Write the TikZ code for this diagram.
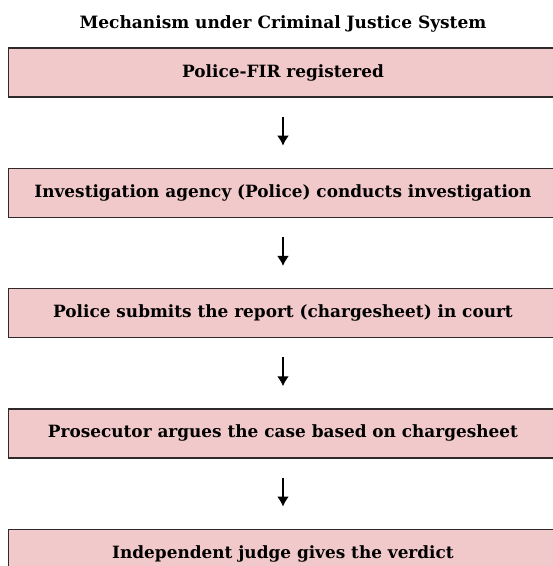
\documentclass[tikz,border=0pt]{standalone}
\usepackage{fontspec}
\setmainfont{DejaVu Serif}
\usepackage{tikz}
\usetikzlibrary{positioning,arrows.meta}
\definecolor{stagepink}{HTML}{F2C9CA}
\definecolor{stageline}{HTML}{2E2A2A}
\tikzstyle{heading}=[font=\fontsize{17}{20}\selectfont\bfseries,inner sep=0pt]
\tikzstyle{stage}=[draw=stageline,line width=1.3pt,fill=stagepink,minimum width=549pt,
  minimum height=49pt,inner sep=0pt,font=\fontsize{16.9}{20}\selectfont\bfseries]
\tikzstyle{flow}=[-{Latex[length=10pt,width=12pt]},line width=1.8pt,shorten <=19pt,shorten >=22pt]

\begin{document}
\begin{tikzpicture}[x=1pt,y=-1pt,node distance=70pt]
  \useasboundingbox (0,0) rectangle (553,566);
  \node[heading] (title) at (283,24) {Mechanism under Criminal Justice System};
  \node[stage] (fir) at (283,72.5) {Police-FIR registered};
  \node[stage,below=of fir] (probe) {Investigation agency (Police) conducts investigation};
  \node[stage,below=of probe] (report) {Police submits the report (chargesheet) in court};
  \node[stage,below=of report] (trial) {Prosecutor argues the case based on chargesheet};
  \node[stage,below=of trial] (verdict) {Independent judge gives the verdict};
  \draw[flow] (fir) -- (probe);
  \draw[flow] (probe) -- (report);
  \draw[flow] (report) -- (trial);
  \draw[flow] (trial) -- (verdict);
\end{tikzpicture}
\end{document}
